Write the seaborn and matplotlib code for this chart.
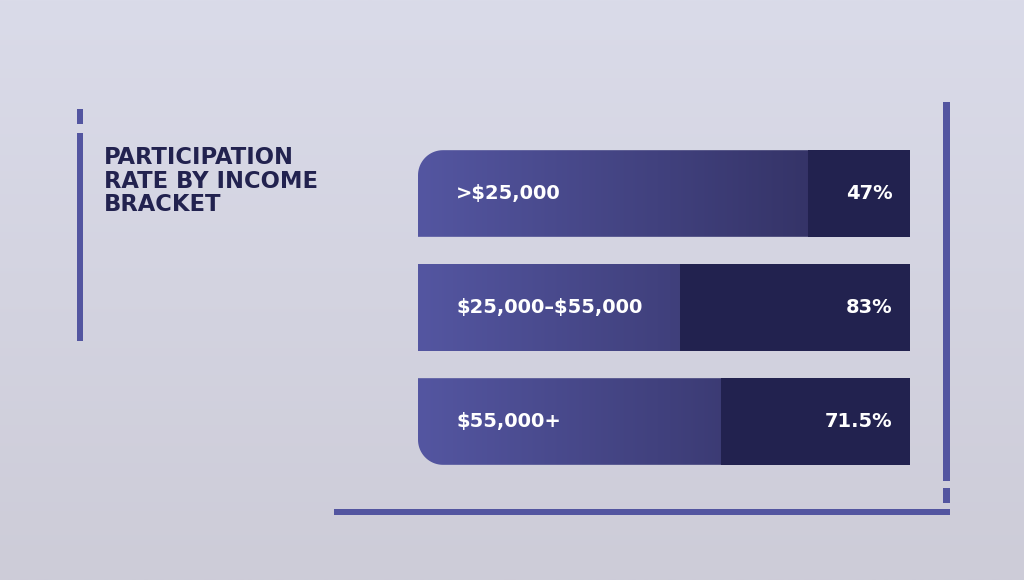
import numpy as np
import matplotlib
matplotlib.use('Agg')
import matplotlib.pyplot as plt
import seaborn as sns
from matplotlib.colors import LinearSegmentedColormap
from matplotlib.patches import Rectangle, PathPatch
from matplotlib.path import Path

# Data
brackets = ['>$25,000', '$25,000–$55,000', '$55,000+']
rates = [47, 83, 71.5]
rate_labels = ['47%', '83%', '71.5%']
title = 'PARTICIPATION\nRATE BY INCOME\nBRACKET'

sns.set_style('white')
plt.rcParams['font.family'] = ['DejaVu Sans']
plt.rcParams['text.parse_math'] = False

ACCENT = '#5355a0'
NAVY = '#22224f'

fig = plt.figure(figsize=(10.24, 5.8), dpi=100)

# Background + decorations in pixel coordinates
ax_bg = fig.add_axes([0, 0, 1, 1])
bg_cmap = LinearSegmentedColormap.from_list('bg', ['#dadbe9', '#cdccd8'])
ax_bg.imshow(np.linspace(0, 1, 256).reshape(-1, 1), cmap=bg_cmap,
             extent=(0, 1024, 580, 0), aspect='auto', zorder=0)
for x0, y0, w, h in [(77, 109, 6, 15), (77, 133, 6, 208),
                     (943, 102, 7, 379), (943, 488, 7, 15),
                     (334, 509, 616, 6)]:
    ax_bg.add_patch(Rectangle((x0, y0), w, h, color=ACCENT, lw=0, zorder=1))
ax_bg.text(104, 146, title, ha='left', va='top', fontsize=16.3,
           fontweight='bold', color=NAVY, linespacing=1.04)
ax_bg.set_xlim(0, 1024)
ax_bg.set_ylim(580, 0)
ax_bg.axis('off')

# Bar axes: inverted value axis, truncated on the right
X_LEFT, X_RIGHT = 156.5, 18.3
ax = fig.add_axes([418 / 1024, 1 - 478.5 / 580, 492 / 1024, 342 / 580])
ax.patch.set_visible(False)

half = 0.38
rx, ry = 7.0, 0.22
corners = ['top', None, 'bottom']
bar_cmap = LinearSegmentedColormap.from_list('bar', ['#5456a1', '#2d2b59'])
t = np.linspace(0, np.pi / 2, 20)
for i, corner in enumerate(corners):
    top, bot = i - half, i + half
    if corner == 'top':
        cx, cy = X_LEFT - rx, top + ry
        arc = np.column_stack([cx + rx * np.sin(t), cy - ry * np.cos(t)])
        verts = [(X_LEFT, bot), (X_RIGHT, bot), (X_RIGHT, top)] + arc.tolist()
    elif corner == 'bottom':
        cx, cy = X_LEFT - rx, bot - ry
        arc = np.column_stack([cx + rx * np.sin(t), cy + ry * np.cos(t)])
        verts = [(X_LEFT, top), (X_RIGHT, top), (X_RIGHT, bot)] + arc.tolist()
    else:
        verts = [(X_LEFT, top), (X_RIGHT, top), (X_RIGHT, bot), (X_LEFT, bot)]
    verts.append(verts[0])
    codes = [Path.MOVETO] + [Path.LINETO] * (len(verts) - 2) + [Path.CLOSEPOLY]
    patch = PathPatch(Path(verts, codes), facecolor='none', edgecolor='none',
                      transform=ax.transData)
    ax.add_patch(patch)
    im = ax.imshow(np.linspace(0, 1, 256).reshape(1, -1), cmap=bar_cmap,
                   extent=(X_LEFT, X_RIGHT, bot, top), aspect='auto', zorder=1)
    im.set_clip_path(patch)

sns.barplot(x=rates, y=brackets, orient='h', color=NAVY, saturation=1,
            width=0.76, linewidth=0, edgecolor='none', ax=ax, zorder=3)

for i, (name, lab) in enumerate(zip(brackets, rate_labels)):
    ax.text(145.8, i, name, ha='left', va='center', color='white',
            fontsize=14, fontweight='bold', zorder=4)
    ax.text(23.3, i, lab, ha='right', va='center', color='white',
            fontsize=14, fontweight='bold', zorder=4)

ax.set_xlim(X_LEFT, X_RIGHT)
ax.set_ylim(2.5, -0.5)
ax.axis('off')

fig.savefig('out.png', dpi=100)
